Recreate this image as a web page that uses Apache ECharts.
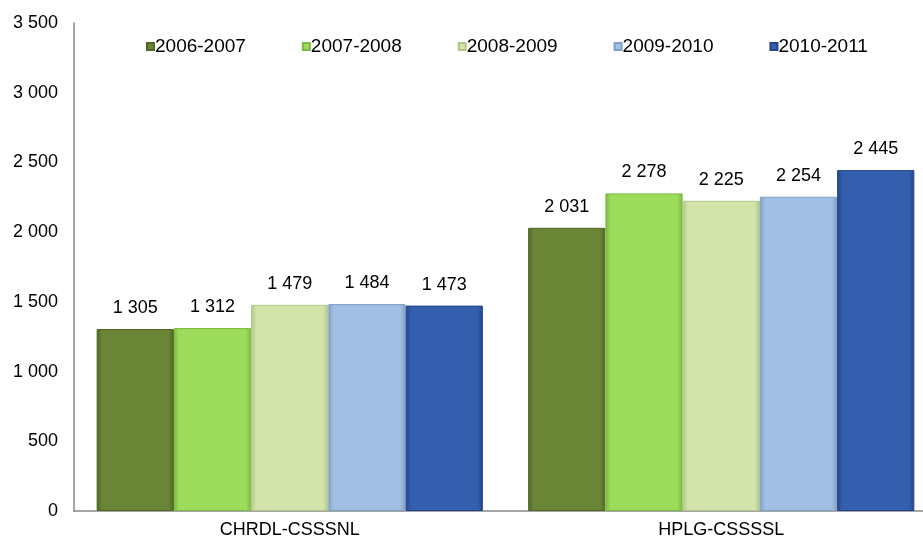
<!DOCTYPE html>
<html><head><meta charset="utf-8">
<script src="https://cdn.jsdelivr.net/npm/echarts@6/dist/echarts.min.js"></script>
<style>html,body{margin:0;padding:0;background:#fff}#c{width:923px;height:540px}</style>
</head><body><div id="c"></div>
<script>
const categories = ['CHRDL-CSSSNL', 'HPLG-CSSSSL'];
const seriesNames = ['2006-2007', '2007-2008', '2008-2009', '2009-2010', '2010-2011'];
const v2006 = [1305, 2031];
const v2007 = [1312, 2278];
const v2008 = [1479, 2225];
const v2009 = [1484, 2254];
const v2010 = [1473, 2445];
const values = [v2006, v2007, v2008, v2009, v2010];
const colors = ['#6A8535', '#9DDC5A', '#D2E4A9', '#A1BEE3', '#345EAE'];
const edges  = ['#4F6624', '#7DB843', '#B3C68A', '#829FC6', '#244689'];

function fmt(v){ return String(v).replace(/\B(?=(\d{3})+(?!\d))/g, ' '); }

const chart = echarts.init(document.getElementById('c'));
chart.setOption({
  animation: false,
  textStyle: {fontFamily: 'Liberation Sans, Arial, sans-serif'},
  legend: {
    top: 32, left: 141,
    itemWidth: 7, itemHeight: 7, itemGap: 56,
    icon: 'rect',
    textStyle: {fontSize: 19, color: '#000', padding: [0,0,0,-4]},
    data: seriesNames
  },
  grid: {left: 74, width: 863, top: 23, bottom: 29, containLabel: false, outerBoundsMode: 'none'},
  xAxis: {
    type: 'category', data: categories,
    axisLine: {lineStyle: {color: '#888', width: 1.5}},
    axisTick: {show: false},
    axisLabel: {fontSize: 18, color: '#000', margin: 10}
  },
  yAxis: {
    type: 'value', min: 0, max: 3500, interval: 500,
    axisLine: {show: true, lineStyle: {color: '#888', width: 1.5}},
    axisTick: {show: false},
    splitLine: {show: false},
    axisLabel: {fontSize: 18, color: '#000', margin: 16, formatter: fmt}
  },
  series: seriesNames.map((n, i) => ({
    name: n, type: 'bar',
    data: values[i],
    barGap: '0%', barCategoryGap: '10.5%',
    itemStyle: {
      color: new echarts.graphic.LinearGradient(0, 0, 1, 0, [
        {offset: 0, color: edges[i]},
        {offset: 0.07, color: colors[i]},
        {offset: 0.93, color: colors[i]},
        {offset: 1, color: edges[i]}
      ]),
      borderColor: edges[i], borderWidth: 1
    },
    label: {show: true, position: 'top', distance: 12, fontSize: 18, color: '#000', formatter: p => fmt(p.value)}
  }))
});
</script></body></html>
